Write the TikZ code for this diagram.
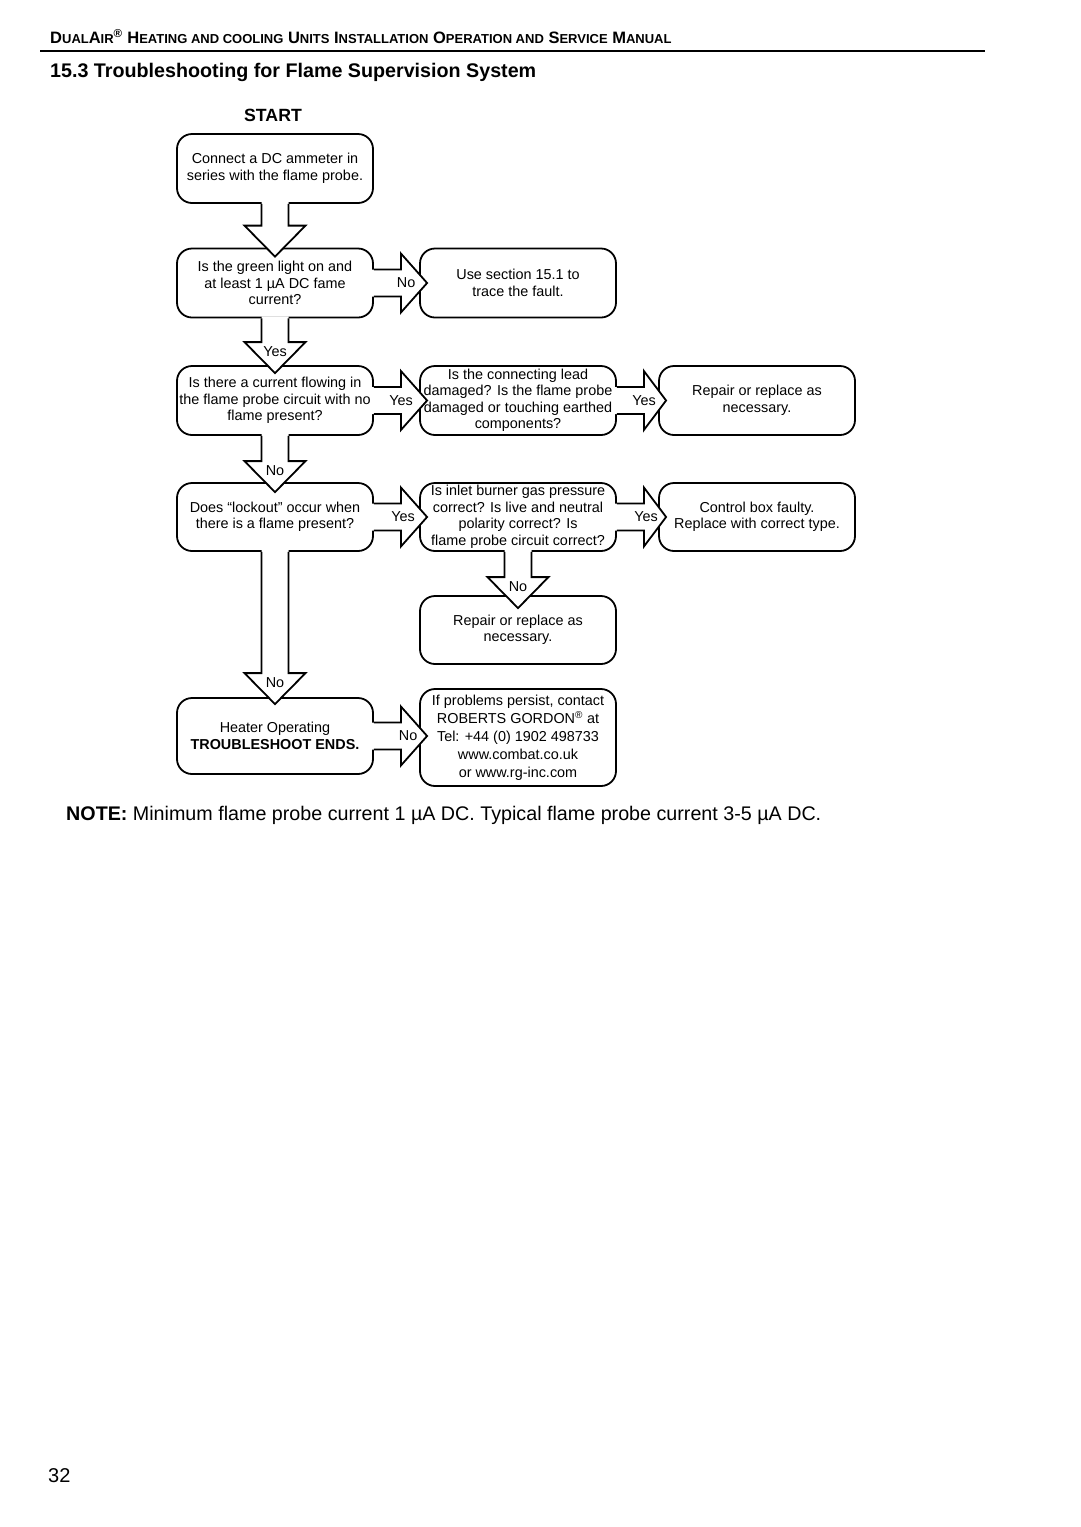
\documentclass[tikz,border=0pt]{standalone}
\usepackage{fontspec}
\setmainfont{Liberation Sans}
\usetikzlibrary{calc}
\newcommand\boxfont{\fontsize{14.4}{16.5}\selectfont}
\newcommand\hsc[1]{{\fontsize{13}{14}\selectfont #1}}
\tikzset{
  box/.style={draw=black, line width=1.8pt, rounded corners=15pt, minimum width=196pt,
    minimum height=#1, inner sep=0pt, align=center, font=\boxfont},
  box/.default=69pt,
  arrline/.style={draw=black, line width=1.8pt, line join=miter},
  lbl/.style={font=\boxfont, inner sep=0pt},
}
% horizontal block arrow: label offset #1, from node #2 to node #3 with label #4
\newcommand\harrow[4]{%
  \coordinate (hs) at (#2.east);
  \coordinate (ht) at ($(#3.west)+(8,0)$);
  \fill[white] ($(hs)+(-2,-13.5)$) -- ($(hs)+(27,-13.5)$) -- ($(hs)+(27,-29.5)$) -- (ht |- hs)
     -- ($(hs)+(27,29.5)$) -- ($(hs)+(27,13.5)$) -- ($(hs)+(-2,13.5)$) -- cycle;
  \draw[arrline] ($(hs)+(0,-13.5)$) -- ($(hs)+(27,-13.5)$) -- ($(hs)+(27,-29.5)$) -- (ht |- hs)
     -- ($(hs)+(27,29.5)$) -- ($(hs)+(27,13.5)$) -- ($(hs)+(0,13.5)$);
  \node[lbl] at ($(ht |- hs)+(-#1,0)$) {#4};
}
% vertical block arrow: tip offset #1, from node #2 to node #3, label #4
\newcommand\varrow[4]{%
  \coordinate (vs) at (#2.south);
  \coordinate (vt) at ($(#3.north)+(0,#1)$);
  \fill[white] ($(vs)+(-13.5,-2)$) -- ($(vt)+(-13.5,-31)$) -- ($(vt)+(-30.5,-31)$) -- (vt)
     -- ($(vt)+(30.5,-31)$) -- ($(vt)+(13.5,-31)$) -- ($(vs)+(13.5,-2)$) -- cycle;
  \draw[arrline] ($(vs)+(-13.5,0)$) -- ($(vt)+(-13.5,-31)$) -- ($(vt)+(-30.5,-31)$) -- (vt)
     -- ($(vt)+(30.5,-31)$) -- ($(vt)+(13.5,-31)$) -- ($(vs)+(13.5,0)$);
  \node[lbl] at ($(vt)+(0,-21)$) {#4};
}
\begin{document}
\begin{tikzpicture}[x=1pt,y=-1pt]
\useasboundingbox (0,0) rectangle (1080,1527);
\fill[white] (0,0) rectangle (1080,1527);

% header
\node[anchor=base west, inner sep=0pt, font=\bfseries\fontsize{16.5}{17}\selectfont] (hdr) at (50,43.5)
  {D\hsc{UAL}A\hsc{IR}\textsuperscript{®} H\hsc{EATING AND COOLING} U\hsc{NITS} I\hsc{NSTALLATION} O\hsc{PERATION AND} S\hsc{ERVICE} M\hsc{ANUAL}};
\draw[line width=2pt] (40,50.5) -- (985,50.5);
\node[anchor=base west, inner sep=0pt, font=\bfseries\fontsize{19.7}{22}\selectfont] (title) at (50,77.5)
  {15.3 Troubleshooting for Flame Supervision System};
\node[anchor=base, inner sep=0pt, font=\bfseries\fontsize{17.7}{20}\selectfont] (start) at (273,121.5) {START};

% boxes
\node[box] (A) at (275,168.5) {Connect a DC ammeter in\\series with the flame probe.};
\node[box] (B) at (275,283) {Is the green light on and\\at least 1 µA DC fame\\current?};
\node[box] (C) at (518,283) {Use section 15.1 to\\trace the fault.};
\node[box] (D) at (275,400.5) {Is there a current flowing in\\the flame probe circuit with no\\flame present?};
\node[box] (E) at (518,400.5) {Is the connecting lead\\damaged? Is the flame probe\\damaged or touching earthed\\components?};
\node[box] (F) at (757,400.5) {Repair or replace as\\necessary.};
\node[box=68pt] (G) at (275,517) {Does “lockout” occur when\\there is a flame present?};
\node[box=68pt] (H) at (518,517) {Is inlet burner gas pressure\\correct? Is live and neutral\\polarity correct? Is\\flame probe circuit correct?};
\node[box=68pt] (I) at (757,517) {Control box faulty.\\Replace with correct type.};
\node[box=68pt] (J) at (518,630) {Repair or replace as\\necessary.};
\node[box=76pt] (K) at (275,736) {Heater Operating\\\textbf{TROUBLESHOOT ENDS.}};
\node[box=97pt, font=\fontsize{14.4}{18}\selectfont] (L) at (518,737.5) {If problems persist, contact\\ROBERTS GORDON\textsuperscript{®} at\\Tel: +44 (0) 1902 498733\\www.combat.co.uk\\or www.rg-inc.com};

% arrows
\varrow{9}{A}{B}{}
\harrow{21}{B}{C}{No}
\varrow{8}{B}{D}{Yes}
\harrow{26}{D}{E}{Yes}
\harrow{22}{E}{F}{Yes}
\varrow{10}{D}{G}{No}
\harrow{24}{G}{H}{Yes}
\harrow{20}{H}{I}{Yes}
\varrow{13}{H}{J}{No}
\varrow{7}{G}{K}{No}
\harrow{19}{K}{L}{No}

% note and page number
\node[anchor=base west, inner sep=0pt, font=\fontsize{19.7}{22}\selectfont] (note) at (66,820)
  {\textbf{NOTE:} Minimum flame probe current 1 µA DC. Typical flame probe current 3-5 µA DC.};
\node[anchor=base west, inner sep=0pt, font=\fontsize{20}{22}\selectfont] (page) at (48,1482) {32};
\end{tikzpicture}
\end{document}
